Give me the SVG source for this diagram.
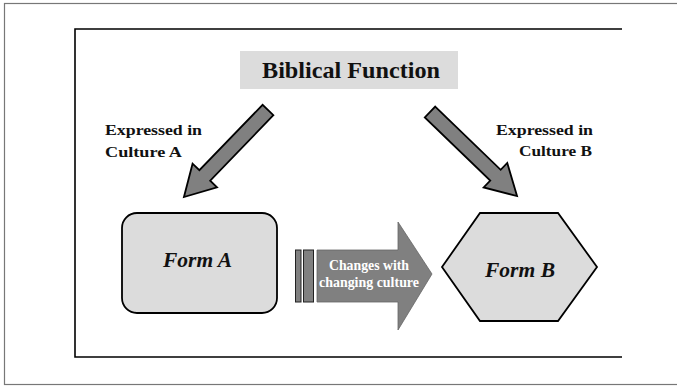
<svg xmlns="http://www.w3.org/2000/svg" width="677" height="387" viewBox="0 0 677 387">
<style>
.lbl{font-family:"Liberation Serif","Times New Roman",serif;font-weight:bold;font-size:14px;fill:#111}
.form{font-family:"Liberation Serif","Times New Roman",serif;font-weight:bold;font-style:italic;font-size:21px;fill:#111;text-anchor:middle}
.arr{fill:#808080;stroke:#000;stroke-width:1.8;stroke-linejoin:miter}
.shape{fill:#dcdcdc;stroke:#000;stroke-width:1.8}
.wt{font-family:"Liberation Serif","Times New Roman",serif;font-weight:bold;font-size:14px;fill:#fff;text-anchor:middle}
</style>
<rect width="677" height="387" fill="#fff"/>
<rect x="4.5" y="3.5" width="700" height="381" fill="none" stroke="#777" stroke-width="1.2"/>
<path d="M622,29 H75 V357 H622" fill="none" stroke="#000" stroke-width="1.6"/>
<g id="title">
<rect x="240" y="51" width="218" height="38" fill="#dcdcdc"/>
<text x="262" y="78" font-family="'Liberation Serif','Times New Roman',serif" font-weight="bold" font-size="23.5" fill="#111" textLength="178" lengthAdjust="spacingAndGlyphs">Biblical Function</text>
</g>
<g id="connectors">
<path class="arr" d="M0,-7.5 L91,-7.5 L91,-17 L121,0 L91,17 L91,7.5 L0,7.5 Z" transform="translate(268,110) rotate(134)"/>
<path class="arr" d="M0,-7.5 L91,-7.5 L91,-17 L121,0 L91,17 L91,7.5 L0,7.5 Z" transform="translate(430,112) rotate(44)"/>
<text class="lbl" x="105" y="135" textLength="97" lengthAdjust="spacingAndGlyphs">Expressed in</text>
<text class="lbl" x="105" y="157" textLength="77" lengthAdjust="spacingAndGlyphs">Culture A</text>
<text class="lbl" x="496" y="135" textLength="97" lengthAdjust="spacingAndGlyphs">Expressed in</text>
<text class="lbl" x="519" y="156" textLength="73" lengthAdjust="spacingAndGlyphs">Culture B</text>
</g>
<g id="formA">
<rect class="shape" x="122" y="213" width="155" height="100" rx="15"/>
<text class="form" x="197.5" y="267" textLength="69" lengthAdjust="spacingAndGlyphs">Form A</text>
</g>
<g id="change">
<rect x="295.5" y="250" width="5.5" height="52" fill="#808080" stroke="#222" stroke-width="1"/>
<rect x="303.5" y="250" width="10" height="52" fill="#808080" stroke="#222" stroke-width="1"/>
<path d="M317,250 H398 V222 L432,274 L398,330 V302 H317 Z" fill="#808080" stroke="#666" stroke-width="0.8"/>
<text class="wt" x="369" y="270" textLength="80" lengthAdjust="spacingAndGlyphs">Changes with</text>
<text class="wt" x="369" y="286.5" textLength="100" lengthAdjust="spacingAndGlyphs">changing culture</text>
</g>
<g id="formB">
<path class="shape" d="M480,213 L558,213 L597,267 L558,321 L480,321 L442,267 Z"/>
<text class="form" x="520" y="277" textLength="70" lengthAdjust="spacingAndGlyphs">Form B</text>
</g>
</svg>
